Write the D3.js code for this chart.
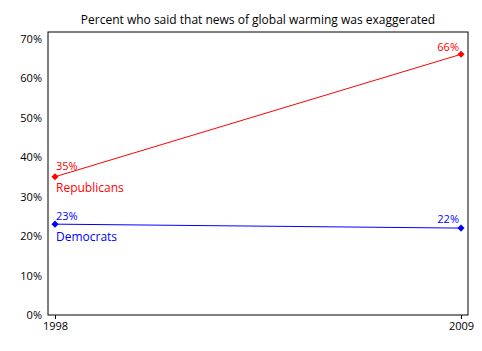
<!DOCTYPE html>
<html>
<head>
<meta charset="utf-8">
<script src="https://cdn.jsdelivr.net/npm/d3@7"></script>
<style>
  body { margin: 0; background: #fff; }
  text { font-family: "Open Sans", "DejaVu Sans", sans-serif; }
</style>
</head>
<body>
<div id="chart"></div>
<script>
// data
const years = [1998, 2009];
const republicans = [35, 66];
const democrats = [23, 22];
const yTicks = [0, 10, 20, 30, 40, 50, 60, 70];

const svgWidth = 482, svgHeight = 351;
const frame = {left: 48, right: 468, top: 32, bottom: 315};

let svg = d3.select('#chart')
    .append('svg')
    .attr('width', svgWidth)
    .attr('height', svgHeight);

let xScale = d3.scaleLinear()
    .domain([1998, 2009])
    .range([55, 461]);

let yScale = d3.scaleLinear()
    .domain([0, 70])
    .range([frame.bottom, 38.5]);

// title
svg.append('text')
    .attr('x', 258)
    .attr('y', 24)
    .attr('text-anchor', 'middle')
    .style('font-size', '12px')
    .attr('fill', '#000')
    .text('Percent who said that news of global warming was exaggerated');

// frame
svg.append('rect')
    .attr('x', frame.left)
    .attr('y', frame.top)
    .attr('width', frame.right - frame.left)
    .attr('height', frame.bottom - frame.top)
    .attr('fill', 'none')
    .attr('stroke', '#000')
    .attr('stroke-width', 1);

// axes
svg.append('g')
    .attr('transform', `translate(${frame.left},0)`)
    .call(d3.axisLeft(yScale).tickValues(yTicks).tickSize(0).tickPadding(6).tickFormat(d => d + '%'))
    .call(g => g.select('.domain').remove())
    .selectAll('text')
    .style('font-size', '11px')
    .attr('fill', '#000');

svg.append('g')
    .attr('transform', `translate(0,${frame.bottom})`)
    .call(d3.axisBottom(xScale).tickValues(years).tickSize(4).tickPadding(3).tickFormat(d3.format('d')))
    .call(g => g.select('.domain').remove())
    .call(g => g.selectAll('line').attr('stroke', '#000'))
    .selectAll('text')
    .style('font-size', '11px')
    .attr('fill', '#000');

const series = [
    {name: 'Republicans', values: republicans, color: '#ff0000', labelDy: [-7, -3], nameY: 192},
    {name: 'Democrats', values: democrats, color: '#0000ff', labelDy: [-4, -5], nameY: 241}
];

const line = d3.line()
    .x((d, i) => xScale(years[i]))
    .y(d => yScale(d));

series.forEach(s => {
    svg.append('path')
        .datum(s.values)
        .attr('d', line)
        .attr('fill', 'none')
        .attr('stroke', s.color)
        .attr('stroke-width', 1);

    // diamond markers
    svg.selectAll(null)
        .data(s.values)
        .join('path')
        .attr('d', d3.symbol(d3.symbolSquare, 25))
        .attr('transform', (d, i) => `translate(${xScale(years[i])},${yScale(d)}) rotate(45)`)
        .attr('fill', s.color);

    svg.selectAll(null)
        .data(s.values)
        .join('text')
        .attr('x', (d, i) => i === 0 ? xScale(years[i]) + 1 : xScale(years[i]) - 2)
        .attr('y', (d, i) => yScale(d) + s.labelDy[i])
        .attr('text-anchor', (d, i) => i === 0 ? 'start' : 'end')
        .style('font-size', '11px')
        .attr('fill', s.color)
        .text(d => d + '%');

    svg.append('text')
        .attr('x', xScale(years[0]) + 1)
        .attr('y', s.nameY)
        .style('font-size', '12px')
        .attr('fill', s.color)
        .text(s.name);
});
</script>
</body>
</html>
